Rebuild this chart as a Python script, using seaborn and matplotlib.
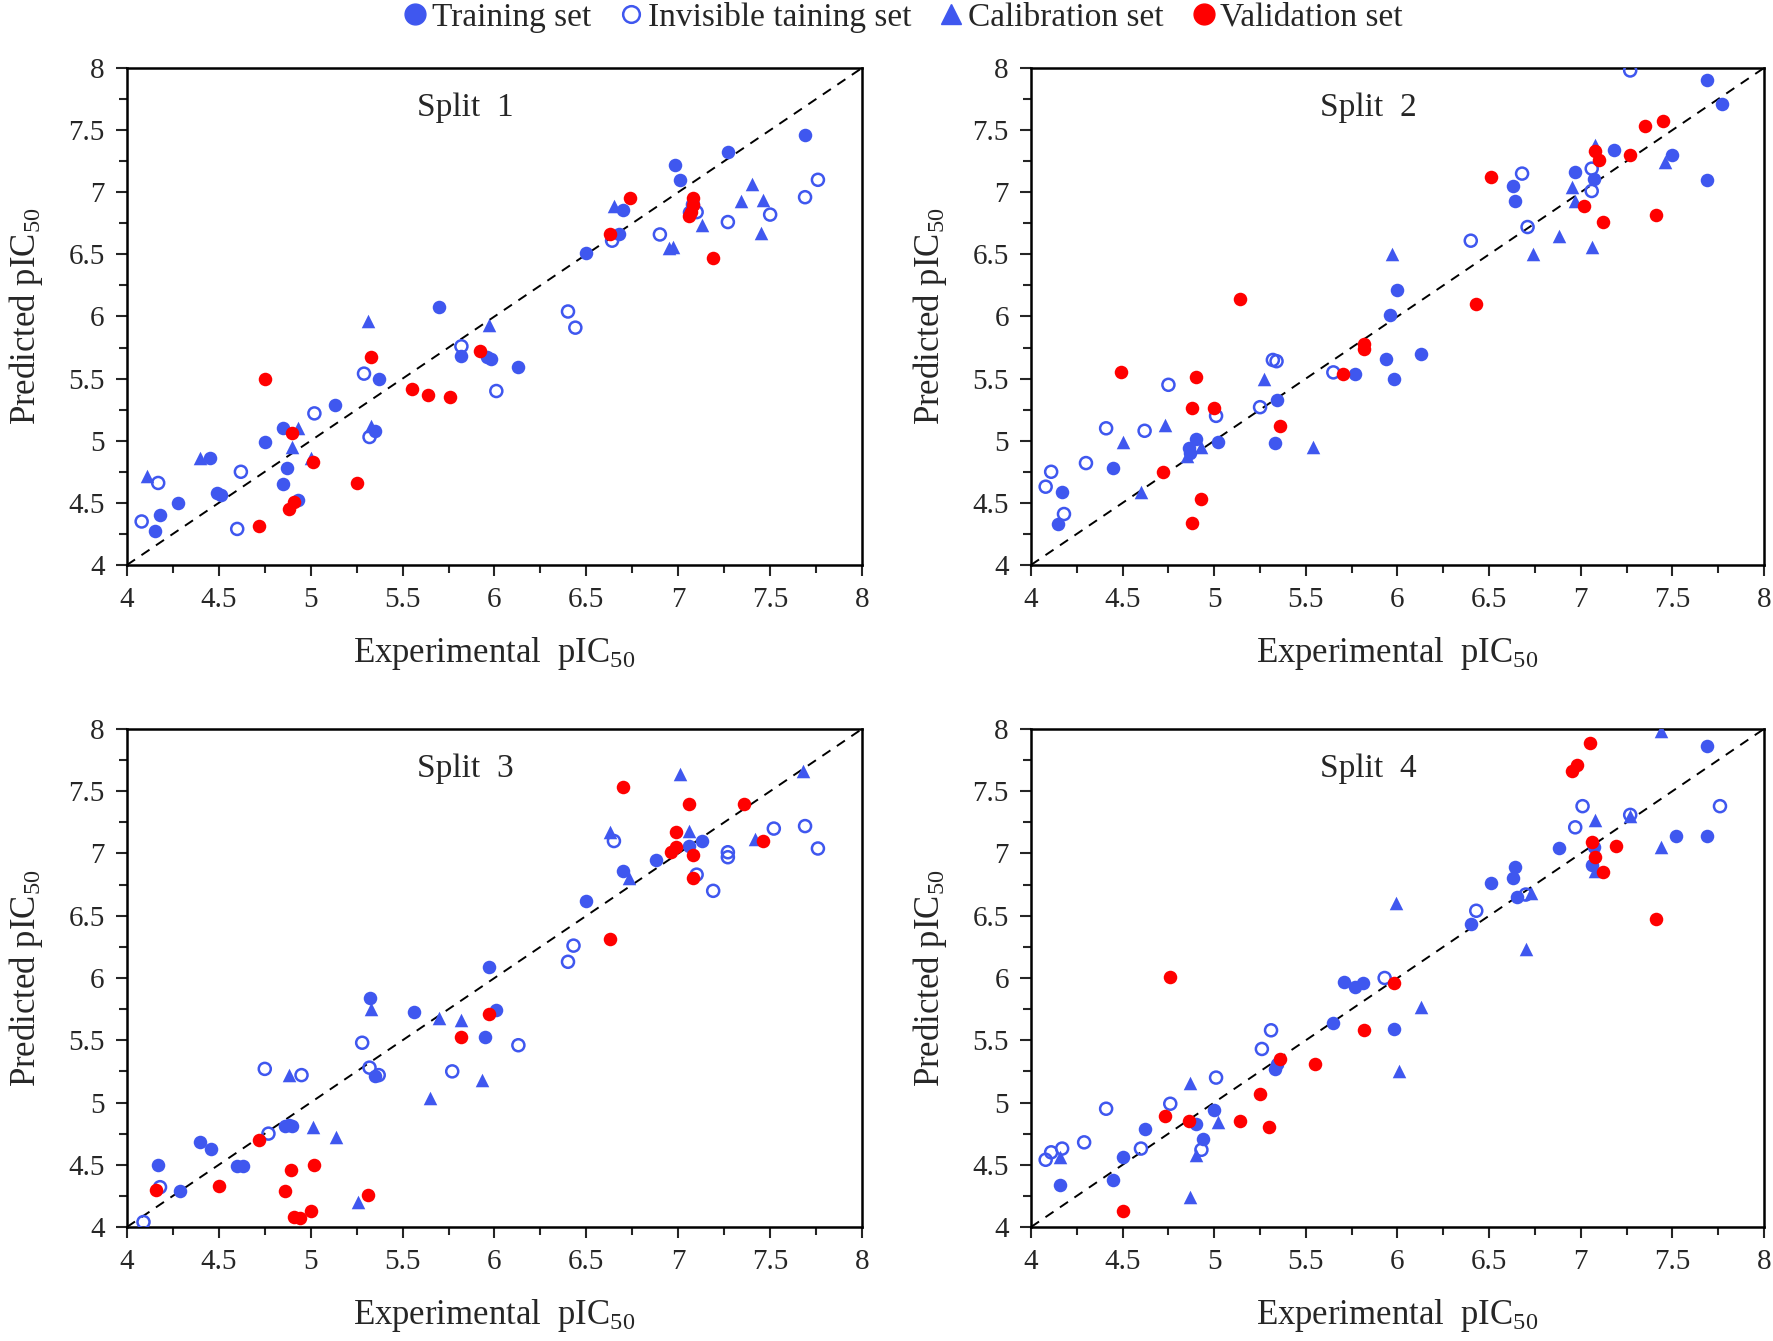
"""
Experimental vs predicted pIC50 for four data splits.
"""

import matplotlib.pyplot as plt
import seaborn as sns
import pandas as pd
from matplotlib.lines import Line2D
from matplotlib.ticker import MultipleLocator, FuncFormatter

# ---- Split 1 ----
s1_train_x = [4.15, 4.18, 4.28, 4.45, 4.49, 4.51, 4.75, 4.85, 4.87, 4.85, 4.93, 5.13, 5.35, 5.37, 5.70,
              5.82, 5.96, 5.98, 6.13, 6.50, 6.68, 6.70, 6.98, 7.01, 7.27, 7.69, 7.06]
s1_train_y = [4.27, 4.40, 4.50, 4.86, 4.58, 4.56, 4.99, 5.10, 4.78, 4.65, 4.52, 5.29, 5.08, 5.50, 6.08,
              5.68, 5.67, 5.66, 5.59, 6.51, 6.66, 6.86, 7.22, 7.10, 7.32, 7.46, 6.84]
s1_inv_x = [4.08, 4.17, 4.62, 4.60, 5.02, 5.29, 5.32, 5.82, 6.01, 6.40, 6.44, 6.64, 6.90, 7.08, 7.10,
            7.27, 7.50, 7.69, 7.76]
s1_inv_y = [4.35, 4.66, 4.75, 4.29, 5.22, 5.54, 5.03, 5.76, 5.40, 6.04, 5.91, 6.61, 6.66, 6.90, 6.84,
            6.76, 6.82, 6.96, 7.10]
s1_cal_x = [4.11, 4.40, 4.90, 4.93, 5.00, 5.31, 5.33, 5.97, 6.65, 6.95, 6.97, 7.13, 7.34, 7.40, 7.46, 7.45]
s1_cal_y = [4.72, 4.86, 4.95, 5.10, 4.86, 5.96, 5.12, 5.93, 6.89, 6.55, 6.56, 6.74, 6.93, 7.07, 6.94, 6.67]
s1_val_x = [4.72, 4.75, 4.88, 4.90, 4.91, 5.01, 5.25, 5.33, 5.55, 5.64, 5.76, 5.92, 6.63, 6.74, 7.06,
            7.08, 7.08, 7.07, 7.19]
s1_val_y = [4.31, 5.50, 4.45, 5.06, 4.51, 4.83, 4.66, 5.67, 5.42, 5.37, 5.35, 5.72, 6.66, 6.95, 6.81,
            6.95, 6.90, 6.84, 6.47]

# ---- Split 2 ----
s2_train_x = [4.15, 4.17, 4.45, 4.86, 4.87, 4.90, 5.02, 5.33, 5.34, 5.77, 5.94, 5.96, 5.98, 6.00, 6.13,
              6.63, 6.64, 6.97, 7.07, 7.18, 7.50, 7.69, 7.69, 7.77]
s2_train_y = [4.33, 4.59, 4.78, 4.94, 4.90, 5.01, 4.99, 4.98, 5.33, 5.54, 5.66, 6.01, 5.50, 6.21, 5.70,
              7.05, 6.93, 7.16, 7.11, 7.34, 7.30, 7.10, 7.90, 7.71]
s2_inv_x = [4.08, 4.11, 4.18, 4.30, 4.41, 4.62, 4.75, 5.01, 5.25, 5.32, 5.34, 5.65, 6.40, 6.68, 6.71,
            7.06, 7.06, 7.27]
s2_inv_y = [4.63, 4.75, 4.41, 4.82, 5.10, 5.08, 5.45, 5.20, 5.27, 5.65, 5.64, 5.55, 6.61, 7.15, 6.72,
            7.19, 7.01, 7.98]
s2_cal_x = [4.50, 4.60, 4.73, 4.85, 4.93, 5.27, 5.54, 5.97, 6.74, 6.88, 6.95, 6.97, 7.06, 7.08, 7.46]
s2_cal_y = [4.99, 4.59, 5.13, 4.88, 4.95, 5.50, 4.95, 6.50, 6.50, 6.65, 7.04, 6.93, 6.56, 7.38, 7.24]
s2_val_x = [4.49, 4.72, 4.88, 4.88, 4.90, 4.93, 5.00, 5.14, 5.36, 5.70, 5.82, 5.82, 6.43, 6.51, 7.02,
            7.08, 7.10, 7.12, 7.27, 7.35, 7.41, 7.45]
s2_val_y = [5.55, 4.75, 4.34, 5.26, 5.51, 4.53, 5.26, 6.14, 5.12, 5.54, 5.78, 5.74, 6.10, 7.12, 6.89,
            7.33, 7.26, 6.76, 7.30, 7.53, 6.82, 7.57]

# ---- Split 3 ----
s3_train_x = [4.17, 4.29, 4.40, 4.46, 4.60, 4.63, 4.86, 4.90, 4.88, 5.32, 5.35, 5.56, 5.95, 5.97, 6.01,
              6.50, 6.70, 6.88, 7.06, 7.13]
s3_train_y = [4.50, 4.29, 4.68, 4.63, 4.49, 4.49, 4.81, 4.81, 4.82, 5.84, 5.21, 5.73, 5.53, 6.09, 5.74,
              6.62, 6.86, 6.95, 7.06, 7.10]
s3_inv_x = [4.09, 4.18, 4.75, 4.77, 4.95, 5.28, 5.32, 5.37, 5.77, 6.13, 6.40, 6.43, 6.65, 7.10, 7.19,
            7.27, 7.27, 7.52, 7.69, 7.76]
s3_inv_y = [4.04, 4.32, 5.27, 4.75, 5.22, 5.48, 5.28, 5.22, 5.25, 5.46, 6.13, 6.26, 7.10, 6.83, 6.70,
            7.01, 6.97, 7.20, 7.22, 7.04]
s3_cal_x = [4.88, 5.01, 5.14, 5.26, 5.33, 5.65, 5.70, 5.82, 5.93, 6.63, 6.73, 7.01, 7.06, 7.42, 7.68]
s3_cal_y = [5.22, 4.80, 4.72, 4.20, 5.75, 5.04, 5.68, 5.66, 5.18, 7.17, 6.80, 7.64, 7.18, 7.12, 7.66]
s3_val_x = [4.16, 4.50, 4.72, 4.86, 4.89, 4.91, 4.94, 5.02, 5.00, 5.31, 5.82, 5.97, 6.63, 6.70, 6.96,
            6.99, 6.99, 7.06, 7.08, 7.08, 7.36, 7.46]
s3_val_y = [4.30, 4.33, 4.70, 4.29, 4.46, 4.08, 4.07, 4.50, 4.13, 4.26, 5.53, 5.71, 6.31, 7.53, 7.01,
            7.05, 7.17, 7.40, 6.99, 6.80, 7.40, 7.10]

# ---- Split 4 ----
s4_train_x = [4.16, 4.45, 4.50, 4.62, 4.90, 4.94, 5.00, 5.33, 5.34, 5.65, 5.71, 5.77, 5.81, 5.98, 6.40,
              6.63, 6.64, 6.65, 6.51, 6.88, 7.06, 7.07, 7.52, 7.69, 7.69]
s4_train_y = [4.34, 4.38, 4.56, 4.79, 4.83, 4.71, 4.94, 5.27, 5.31, 5.64, 5.97, 5.93, 5.96, 5.59, 6.43,
              6.80, 6.89, 6.65, 6.76, 7.04, 6.91, 7.05, 7.14, 7.14, 7.86]
s4_inv_x = [4.08, 4.11, 4.17, 4.29, 4.41, 4.60, 4.76, 4.93, 5.01, 5.26, 5.31, 5.93, 6.43, 6.70, 6.97,
            7.01, 7.27, 7.76]
s4_inv_y = [4.54, 4.60, 4.63, 4.68, 4.95, 4.63, 4.99, 4.62, 5.20, 5.43, 5.58, 6.00, 6.54, 6.67, 7.21,
            7.38, 7.31, 7.38]
s4_cal_x = [4.16, 4.87, 4.87, 4.90, 5.02, 5.34, 5.99, 6.01, 6.13, 6.70, 6.73, 7.08, 7.08, 7.27, 7.44, 7.44]
s4_cal_y = [4.56, 5.16, 4.24, 4.58, 4.84, 5.34, 6.60, 5.25, 5.77, 6.23, 6.68, 7.27, 6.86, 7.30, 7.05, 7.98]
s4_val_x = [4.50, 4.73, 4.76, 4.86, 5.14, 5.25, 5.30, 5.36, 5.55, 5.82, 5.98, 6.95, 6.98, 7.05, 7.06,
            7.08, 7.12, 7.19, 7.41]
s4_val_y = [4.13, 4.89, 6.01, 4.85, 4.85, 5.07, 4.80, 5.35, 5.31, 5.58, 5.96, 7.66, 7.71, 7.89, 7.09,
            6.97, 6.85, 7.06, 6.47]

set_names = ["Training set", "Invisible taining set", "Calibration set", "Validation set"]
split_names = ["Split 1", "Split 2", "Split 3", "Split 4"]

raw = {
    "Split 1": [(s1_train_x, s1_train_y), (s1_inv_x, s1_inv_y), (s1_cal_x, s1_cal_y), (s1_val_x, s1_val_y)],
    "Split 2": [(s2_train_x, s2_train_y), (s2_inv_x, s2_inv_y), (s2_cal_x, s2_cal_y), (s2_val_x, s2_val_y)],
    "Split 3": [(s3_train_x, s3_train_y), (s3_inv_x, s3_inv_y), (s3_cal_x, s3_cal_y), (s3_val_x, s3_val_y)],
    "Split 4": [(s4_train_x, s4_train_y), (s4_inv_x, s4_inv_y), (s4_cal_x, s4_cal_y), (s4_val_x, s4_val_y)],
}

rows = []
for split, sets in raw.items():
    for name, (xs, ys) in zip(set_names, sets):
        for x, y in zip(xs, ys):
            rows.append({"split": split, "set": name, "exp": x, "pred": y})
df = pd.DataFrame(rows)

BLUE = "#3F57EF"
RED = "#FF0000"

sns.set_style("ticks")
plt.rcParams["font.family"] = ["Liberation Serif", "DejaVu Serif"]
plt.rcParams["mathtext.fontset"] = "custom"
plt.rcParams["mathtext.rm"] = "Liberation Serif"
plt.rcParams["mathtext.it"] = "Liberation Serif:italic"

fig = plt.figure(figsize=(17.73, 13.41), dpi=100)
positions = [
    [0.0716, 0.5787, 0.4146, 0.3706],
    [0.5815, 0.5787, 0.4134, 0.3706],
    [0.0716, 0.0850, 0.4146, 0.3714],
    [0.5815, 0.0850, 0.4134, 0.3714],
]

styles = {
    "Training set": dict(marker="o", s=95, color=BLUE, edgecolor=BLUE, linewidth=0),
    "Invisible taining set": dict(marker="o", s=75, facecolors="none", edgecolor=BLUE, linewidth=1.8),
    "Calibration set": dict(marker="^", s=95, color=BLUE, edgecolor=BLUE, linewidth=0),
    "Validation set": dict(marker="o", s=95, color=RED, edgecolor=RED, linewidth=0),
}

for split, pos in zip(split_names, positions):
    ax = fig.add_axes(pos)
    ax.plot([4, 8], [4, 8], color="black", linestyle=(0, (5, 4)), linewidth=1.4, zorder=1)
    sub = df[df["split"] == split]
    for name in set_names:
        d = sub[sub["set"] == name]
        sns.scatterplot(data=d, x="exp", y="pred", ax=ax, legend=False, zorder=3, **styles[name])
    ax.set_xlim(4, 8)
    ax.set_ylim(4, 8)
    ax.xaxis.set_major_locator(MultipleLocator(0.5))
    ax.yaxis.set_major_locator(MultipleLocator(0.5))
    ax.xaxis.set_minor_locator(MultipleLocator(0.25))
    ax.yaxis.set_minor_locator(MultipleLocator(0.25))
    fmt = FuncFormatter(lambda v, p: f"{v:g}")
    ax.xaxis.set_major_formatter(fmt)
    ax.yaxis.set_major_formatter(fmt)
    ax.tick_params(which="major", direction="out", length=8, width=1.5, labelsize=21, pad=8)
    ax.tick_params(which="minor", direction="out", length=6, width=1.5)
    for sp in ax.spines.values():
        sp.set_linewidth(1.8)
        sp.set_color("black")
    ax.set_xlabel(r"Experimental  pIC$_{50}$", fontsize=25, labelpad=16)
    ax.set_ylabel(r"Predicted pIC$_{50}$", fontsize=25, labelpad=17)
    ax.text(0.46, 0.92, split.replace(" ", "  "), transform=ax.transAxes, fontsize=24,
            ha="center", va="center")

handles = [
    Line2D([], [], marker="o", linestyle="none", markersize=15, color=BLUE),
    Line2D([], [], marker="o", linestyle="none", markersize=12, markerfacecolor="none",
           markeredgecolor=BLUE, markeredgewidth=1.8),
    Line2D([], [], marker="^", linestyle="none", markersize=15, color=BLUE),
    Line2D([], [], marker="o", linestyle="none", markersize=15, color=RED),
]
fig.legend(handles, set_names, loc="upper center", bbox_to_anchor=(0.508, 1.021), ncol=4,
           frameon=False, fontsize=24, handletextpad=0.0, columnspacing=0.7, handlelength=1.0)

fig.savefig("out.png", dpi=100)
plt.close(fig)
print("Saved out.png")
